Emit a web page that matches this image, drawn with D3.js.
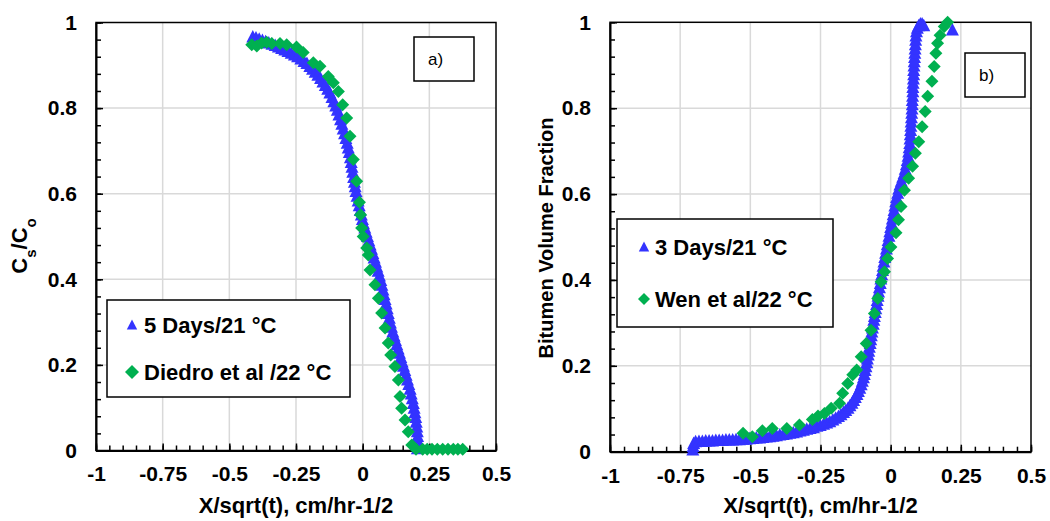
<!DOCTYPE html>
<html><head><meta charset="utf-8">
<script src="https://cdn.jsdelivr.net/npm/d3@7"></script>
<style>body{margin:0;background:#fff} svg{display:block} text{font-family:"Liberation Sans",Arial,sans-serif}</style>
</head><body><svg id="c" width="1050" height="521"></svg>
<script>
const xTicks=[-1,-0.75,-0.5,-0.25,0,0.25,0.5];
const xTickLabels=["-1","-0.75","-0.5","-0.25","0","0.25","0.5"];
const yTicks=[0,0.2,0.4,0.6,0.8,1];
const yTickLabels=["0","0.2","0.4","0.6","0.8","1"];
const xTitle="X/sqrt(t), cm/hr-1/2";

// panel a) : 5 Days/21 °C (blue triangles)
const leftBlue=[[-0.412,0.966],[-0.400,0.964],[-0.388,0.961],[-0.376,0.958],[-0.364,0.955],[-0.352,0.952],[-0.340,0.949],[-0.328,0.946],[-0.316,0.943],[-0.304,0.939],[-0.292,0.936],[-0.280,0.932],[-0.268,0.928],[-0.256,0.924],[-0.244,0.920],[-0.232,0.915],[-0.220,0.909],[-0.209,0.904],[-0.198,0.897],[-0.188,0.891],[-0.178,0.884],[-0.168,0.877],[-0.158,0.869],[-0.149,0.861],[-0.140,0.853],[-0.131,0.844],[-0.123,0.835],[-0.115,0.825],[-0.108,0.815],[-0.101,0.805],[-0.095,0.795],[-0.089,0.784],[-0.083,0.773],[-0.078,0.762],[-0.073,0.751],[-0.068,0.740],[-0.063,0.729],[-0.058,0.718],[-0.054,0.707],[-0.050,0.696],[-0.046,0.684],[-0.043,0.673],[-0.040,0.662],[-0.037,0.650],[-0.034,0.638],[-0.031,0.627],[-0.028,0.616],[-0.025,0.605],[-0.021,0.594],[-0.017,0.583],[-0.013,0.572],[-0.009,0.561],[-0.005,0.550],[-0.001,0.540],[0.003,0.530],[0.008,0.520],[0.013,0.510],[0.018,0.500],[0.023,0.490],[0.028,0.480],[0.033,0.470],[0.038,0.460],[0.043,0.450],[0.048,0.440],[0.053,0.429],[0.058,0.419],[0.063,0.408],[0.068,0.397],[0.072,0.386],[0.076,0.375],[0.080,0.364],[0.084,0.353],[0.088,0.342],[0.092,0.331],[0.096,0.320],[0.100,0.309],[0.104,0.298],[0.108,0.288],[0.113,0.277],[0.118,0.267],[0.123,0.257],[0.128,0.247],[0.133,0.237],[0.138,0.227],[0.143,0.217],[0.148,0.207],[0.153,0.197],[0.158,0.187],[0.163,0.176],[0.168,0.165],[0.173,0.154],[0.178,0.143],[0.182,0.132],[0.186,0.121],[0.190,0.110],[0.193,0.099],[0.196,0.088],[0.199,0.077],[0.201,0.066],[0.203,0.055],[0.205,0.044],[0.206,0.033],[0.207,0.022],[0.207,0.012],[0.205,0.004]];
// panel a) : Diedro et al /22 °C (green diamonds)
const leftGreen=[[-0.416,0.948],[-0.397,0.945],[-0.379,0.952],[-0.36,0.954],[-0.341,0.951],[-0.31,0.951],[-0.285,0.948],[-0.248,0.943],[-0.223,0.93],[-0.185,0.906],[-0.16,0.898],[-0.129,0.874],[-0.11,0.859],[-0.091,0.839],[-0.075,0.808],[-0.06,0.777],[-0.0475,0.734],[-0.035,0.68],[-0.0225,0.629],[-0.012,0.58],[-0.008,0.551],[-0.004,0.52],[0.002,0.50],[0.015,0.473],[0.021,0.457],[0.0275,0.422],[0.046,0.387],[0.059,0.356],[0.071,0.321],[0.084,0.286],[0.096,0.251],[0.105,0.223],[0.121,0.196],[0.134,0.165],[0.14,0.126],[0.146,0.099],[0.159,0.071],[0.171,0.044],[0.184,0.013],[0.200,0.003],[0.225,0.003],[0.242,0.003],[0.26,0.003],[0.28,0.003],[0.30,0.003],[0.32,0.003],[0.34,0.003],[0.357,0.003],[0.375,0.003]];

// panel b) : 3 Days/21 °C (blue triangles)
const rightBlue=[[-0.705,0.004],[-0.704,0.012],[-0.702,0.019],[-0.695,0.023],[-0.683,0.024],[-0.671,0.024],[-0.659,0.025],[-0.647,0.025],[-0.635,0.025],[-0.623,0.026],[-0.611,0.026],[-0.599,0.026],[-0.587,0.027],[-0.575,0.027],[-0.563,0.027],[-0.551,0.028],[-0.539,0.028],[-0.527,0.029],[-0.515,0.029],[-0.503,0.030],[-0.491,0.031],[-0.479,0.032],[-0.467,0.032],[-0.455,0.033],[-0.443,0.034],[-0.431,0.035],[-0.419,0.036],[-0.407,0.037],[-0.395,0.039],[-0.383,0.040],[-0.371,0.041],[-0.359,0.043],[-0.347,0.044],[-0.335,0.046],[-0.323,0.048],[-0.311,0.050],[-0.299,0.052],[-0.287,0.054],[-0.275,0.056],[-0.263,0.059],[-0.251,0.061],[-0.239,0.064],[-0.228,0.067],[-0.217,0.070],[-0.206,0.074],[-0.196,0.078],[-0.186,0.082],[-0.177,0.086],[-0.168,0.091],[-0.160,0.096],[-0.152,0.101],[-0.145,0.107],[-0.138,0.113],[-0.132,0.119],[-0.126,0.126],[-0.120,0.133],[-0.115,0.140],[-0.110,0.148],[-0.105,0.156],[-0.101,0.164],[-0.097,0.172],[-0.094,0.180],[-0.091,0.189],[-0.088,0.198],[-0.085,0.207],[-0.083,0.216],[-0.080,0.225],[-0.078,0.234],[-0.076,0.243],[-0.073,0.252],[-0.071,0.261],[-0.069,0.270],[-0.067,0.279],[-0.065,0.288],[-0.062,0.297],[-0.060,0.306],[-0.058,0.315],[-0.055,0.324],[-0.053,0.333],[-0.050,0.343],[-0.048,0.352],[-0.045,0.362],[-0.043,0.372],[-0.040,0.382],[-0.037,0.392],[-0.035,0.402],[-0.032,0.412],[-0.029,0.422],[-0.027,0.432],[-0.024,0.442],[-0.021,0.452],[-0.018,0.462],[-0.015,0.472],[-0.012,0.482],[-0.009,0.492],[-0.006,0.502],[-0.003,0.512],[0.000,0.522],[0.003,0.532],[0.006,0.542],[0.009,0.552],[0.012,0.562],[0.015,0.572],[0.018,0.582],[0.021,0.592],[0.025,0.602],[0.029,0.612],[0.033,0.621],[0.038,0.630],[0.043,0.639],[0.048,0.648],[0.052,0.658],[0.056,0.668],[0.059,0.678],[0.062,0.688],[0.064,0.698],[0.066,0.708],[0.068,0.718],[0.069,0.728],[0.070,0.738],[0.071,0.748],[0.072,0.758],[0.073,0.768],[0.074,0.778],[0.075,0.788],[0.076,0.798],[0.077,0.808],[0.077,0.818],[0.078,0.828],[0.079,0.838],[0.079,0.848],[0.080,0.858],[0.081,0.868],[0.082,0.878],[0.082,0.888],[0.083,0.898],[0.084,0.908],[0.085,0.918],[0.086,0.928],[0.087,0.938],[0.088,0.948],[0.089,0.958],[0.090,0.968],[0.092,0.978],[0.095,0.986],[0.100,0.992],[0.106,0.996],[0.112,0.996],[0.118,0.992],[0.220,0.982]];
// panel b) : Wen et al/22 °C (green diamonds)
const rightGreen=[[-0.526,0.043],[-0.493,0.035],[-0.457,0.049],[-0.422,0.054],[-0.37,0.054],[-0.325,0.062],[-0.279,0.075],[-0.259,0.083],[-0.236,0.089],[-0.212,0.101],[-0.182,0.113],[-0.171,0.136],[-0.153,0.159],[-0.135,0.179],[-0.121,0.19],[-0.105,0.221],[-0.087,0.252],[-0.07,0.283],[-0.058,0.322],[-0.046,0.357],[-0.034,0.396],[-0.022,0.419],[-0.011,0.45],[0.001,0.477],[0.019,0.51],[0.028,0.54],[0.037,0.571],[0.049,0.609],[0.064,0.637],[0.078,0.665],[0.088,0.695],[0.1,0.722],[0.112,0.757],[0.123,0.792],[0.132,0.828],[0.147,0.863],[0.155,0.897],[0.161,0.928],[0.167,0.951],[0.176,0.97],[0.191,0.99],[0.203,1.0]];

const BLUE="#3333ff", GREEN="#00b050";
const svg=d3.select("#c");
const tri="M0,-7L6.5,5.5L-6.5,5.5Z";
const triLeg="M0,-5.5L5.2,4.5L-5.2,4.5Z";
const dia=r=>`M0,${-r}L${r},0L0,${r}L${-r},0Z`;

function panel(o){
  const x=d3.scaleLinear().domain([-1,0.5]).range([o.x0,o.x1]);
  const y=d3.scaleLinear().domain([0,1]).range([o.yb,o.yt]);
  const g=svg.append("g");
  g.selectAll(null).data(xTicks.slice(1,-1)).join("line")
    .attr("x1",d=>x(d)).attr("x2",d=>x(d)).attr("y1",y(0)).attr("y2",y(1))
    .attr("stroke","#d9d9d9").attr("stroke-width",1.5);
  g.selectAll(null).data(yTicks.slice(1,-1)).join("line")
    .attr("y1",d=>y(d)).attr("y2",d=>y(d)).attr("x1",x(-1)).attr("x2",x(0.5))
    .attr("stroke","#d9d9d9").attr("stroke-width",1.5);
  g.append("rect").attr("x",x(-1)).attr("y",y(1)).attr("width",x(0.5)-x(-1)).attr("height",y(0)-y(1))
    .attr("fill","none").attr("stroke","#000").attr("stroke-width",1.5);
  const xMinor=d3.range(0,31).map(i=>-1+i*0.05);
  const yMinor=d3.range(0,26).map(i=>i*0.04);
  g.append("g").attr("transform",`translate(0,${y(0)})`)
    .call(d3.axisBottom(x).tickValues(xMinor).tickSize(-5).tickSizeOuter(0).tickFormat(""))
    .call(s=>{s.select(".domain").remove();s.selectAll("line").attr("stroke","#000").attr("stroke-width",1.5);});
  g.append("g").attr("transform",`translate(${x(-1)},0)`)
    .call(d3.axisLeft(y).tickValues(yMinor).tickSize(-5).tickSizeOuter(0).tickFormat(""))
    .call(s=>{s.select(".domain").remove();s.selectAll("line").attr("stroke","#000").attr("stroke-width",1.5);});
  const ax=g.append("g").attr("transform",`translate(0,${y(0)})`)
    .call(d3.axisBottom(x).tickValues(xTicks).tickSize(-7).tickSizeOuter(0).tickPadding(16).tickFormat((d,i)=>xTickLabels[i]));
  const ay=g.append("g").attr("transform",`translate(${x(-1)},0)`)
    .call(d3.axisLeft(y).tickValues(yTicks).tickSize(-7).tickSizeOuter(0).tickPadding(19).tickFormat((d,i)=>yTickLabels[i]));
  [ax,ay].forEach(a=>{
    a.attr("font-family",null).attr("font-size",null);
    a.select(".domain").attr("stroke","#000").attr("stroke-width",2);
    a.selectAll("line").attr("stroke","#000").attr("stroke-width",1.5);
    a.selectAll("text").attr("fill","#000").style("font-size","21px").style("font-weight","bold");
  });
  g.append("g").selectAll(null).data(o.blue).join("path")
    .attr("d",tri).attr("transform",d=>`translate(${x(d[0])},${y(d[1])})`).attr("fill",BLUE);
  g.append("g").selectAll(null).data(o.green).join("path")
    .attr("d",dia(6.5)).attr("transform",d=>`translate(${x(d[0])},${y(d[1])})`).attr("fill",GREEN);
  g.append("text").attr("x",(o.x0+o.x1)/2).attr("y",513).attr("text-anchor","middle")
    .style("font-size","22px").style("font-weight","bold").text(xTitle);
  g.append("rect").attr("x",o.tag[0]).attr("y",o.tag[1]).attr("width",60).attr("height",44)
    .attr("fill","#fff").attr("stroke","#000").attr("stroke-width",1.5);
  g.append("text").attr("x",o.tag[0]+14).attr("y",o.tag[1]+27.5).style("font-size","17px").text(o.tagText);
  const L=o.leg;
  g.append("rect").attr("x",L.x).attr("y",L.y).attr("width",L.w).attr("height",L.h)
    .attr("fill","#fff").attr("stroke","#000").attr("stroke-width",1.5);
  g.append("path").attr("d",triLeg).attr("transform",`translate(${L.mx},${L.y1})`).attr("fill",BLUE);
  g.append("path").attr("d",dia(L.dr)).attr("transform",`translate(${L.mx},${L.y2})`).attr("fill",GREEN);
  g.append("text").attr("x",L.tx).attr("y",L.y1+7.5).style("font-size","22px").style("font-weight","bold").text(L.t1);
  g.append("text").attr("x",L.tx).attr("y",L.y2+7.5).style("font-size","22px").style("font-weight","bold").text(L.t2);
  return g;
}

panel({x0:96,x1:496,yb:450.5,yt:22.5,blue:leftBlue,green:leftGreen,tag:[414,37],tagText:"a)",
  leg:{x:107,y:300,w:243,h:97,mx:132,y1:325,y2:372,dr:7,tx:144,t1:"5 Days/21 °C",t2:"Diedro et al /22 °C"}});
panel({x0:610,x1:1031,yb:451.7,yt:22.3,blue:rightBlue,green:rightGreen,tag:[965,53],tagText:"b)",
  leg:{x:617,y:219,w:216,h:108,mx:644,y1:247,y2:299,dr:6,tx:655,t1:"3 Days/21 °C",t2:"Wen et al/22 °C"}});

const yl=svg.append("text").attr("transform","translate(27,246) rotate(-90)").attr("text-anchor","middle")
  .style("font-size","22px").style("font-weight","bold");
yl.append("tspan").text("C");
yl.append("tspan").attr("baseline-shift","sub").style("font-size","15px").text("s");
yl.append("tspan").text("/C");
yl.append("tspan").attr("baseline-shift","sub").style("font-size","15px").text("o");
svg.append("text").attr("transform","translate(553,238) rotate(-90)").attr("text-anchor","middle")
  .style("font-size","20px").style("font-weight","bold").text("Bitumen Volume Fraction");
</script></body></html>
